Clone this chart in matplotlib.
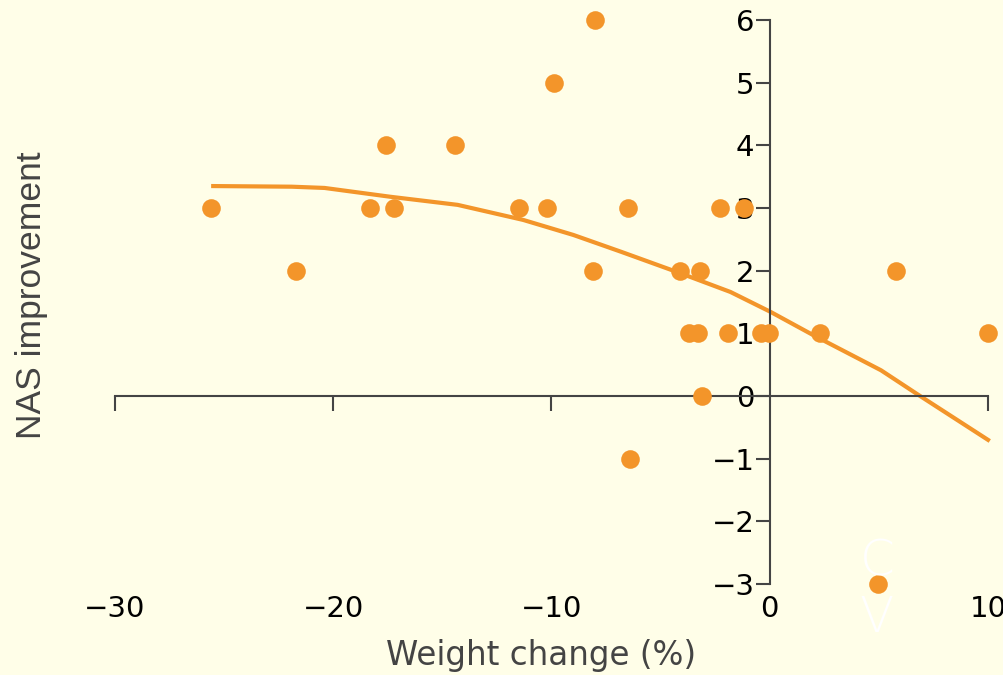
import matplotlib
matplotlib.use("Agg")
import matplotlib.pyplot as plt
import matplotlib.transforms as mtransforms

# Data
weight_change = [-25.6, -21.7, -17.6, -18.3, -17.2, -14.4, -11.5, -10.2, -9.9, -8.0,
                 -8.1, -6.5, -6.4, -4.1, -3.2, -3.7, -3.3, -3.1, -2.3, -1.2,
                 -1.9, -0.4, -0.05, 2.3, 4.95, 5.8, 10.0]
nas_improvement = [3, 2, 4, 3, 3, 4, 3, 3, 5, 6,
                   2, 3, -1, 2, 2, 1, 1, 0, 3, 3,
                   1, 1, 1, 1, -3, 2, 1]

fit_x = [-25.5, -21.9, -20.4, -17.4, -14.3, -11.3, -9.0, -6.8, -4.1, -1.8,
         0.05, 2.0, 5.1, 6.8, 10.0]
fit_y = [3.35, 3.34, 3.32, 3.18, 3.05, 2.81, 2.57, 2.30, 1.96, 1.66,
         1.34, 0.97, 0.41, 0.02, -0.70]

x_ticks = [-30, -20, -10, 0, 10]
y_ticks = [-3, -2, -1, 0, 1, 2, 3, 4, 5, 6]

bg = "#FFFEE8"
orange = "#F3952A"
axis_col = "#444444"

W, H = 1004, 675
fig = plt.figure(figsize=(W / 100, H / 100), dpi=100, facecolor=bg)
ax = fig.add_axes([115 / W, (H - 584) / H, (988 - 115) / W, (584 - 20) / H])
ax.set_facecolor(bg)
ax.set_xlim(-30, 10)
ax.set_ylim(-3, 6)

ax.plot(fit_x, fit_y, color=orange, lw=3, zorder=2, clip_on=False,
        solid_joinstyle="round")
ax.scatter(weight_change, nas_improvement, s=180, color=orange, zorder=3,
           clip_on=False, linewidths=0)

for s in ["top", "right"]:
    ax.spines[s].set_visible(False)
ax.spines["left"].set_position(("data", 0))
ax.spines["bottom"].set_position(("data", 0))
for s in ["left", "bottom"]:
    ax.spines[s].set_color(axis_col)
    ax.spines[s].set_linewidth(1.5)

def fmt(v):
    return "\u2212" + str(-v) if v < 0 else str(v)

ax.set_yticks(y_ticks)
ax.set_yticklabels([fmt(v) for v in y_ticks])
ax.tick_params(axis="y", direction="out", length=10, width=1.5, color=axis_col,
               labelsize=21, labelcolor="black", pad=1)

ax.set_xticks([v for v in x_ticks if v != 0])
ax.set_xticklabels([])
ax.tick_params(axis="x", direction="out", length=11, width=1.5, color=axis_col)

trans = mtransforms.blended_transform_factory(ax.transData, fig.transFigure)
for v in x_ticks:
    ax.text(v, (H - 609) / H, fmt(v), transform=trans, ha="center", va="center",
            fontsize=21, color="black", clip_on=False)

fig.text(541 / W, (H - 656) / H, "Weight change (%)", ha="center", va="center",
         fontsize=23.5, color=axis_col)
fig.text(32 / W, (H - 295) / H, "NAS improvement", ha="center", va="center",
         rotation=90, fontsize=25.5, color=axis_col, family="Liberation Sans")

# faint white glyphs present in the reference
fig.text(877 / W, (H - 575) / H, "C", ha="center", va="baseline", fontsize=36,
         color="white", fontweight="light")
fig.text(877 / W, (H - 632) / H, "V", ha="center", va="baseline", fontsize=36,
         color="white", fontweight="light")

fig.savefig("out.png", dpi=100, facecolor=bg)
